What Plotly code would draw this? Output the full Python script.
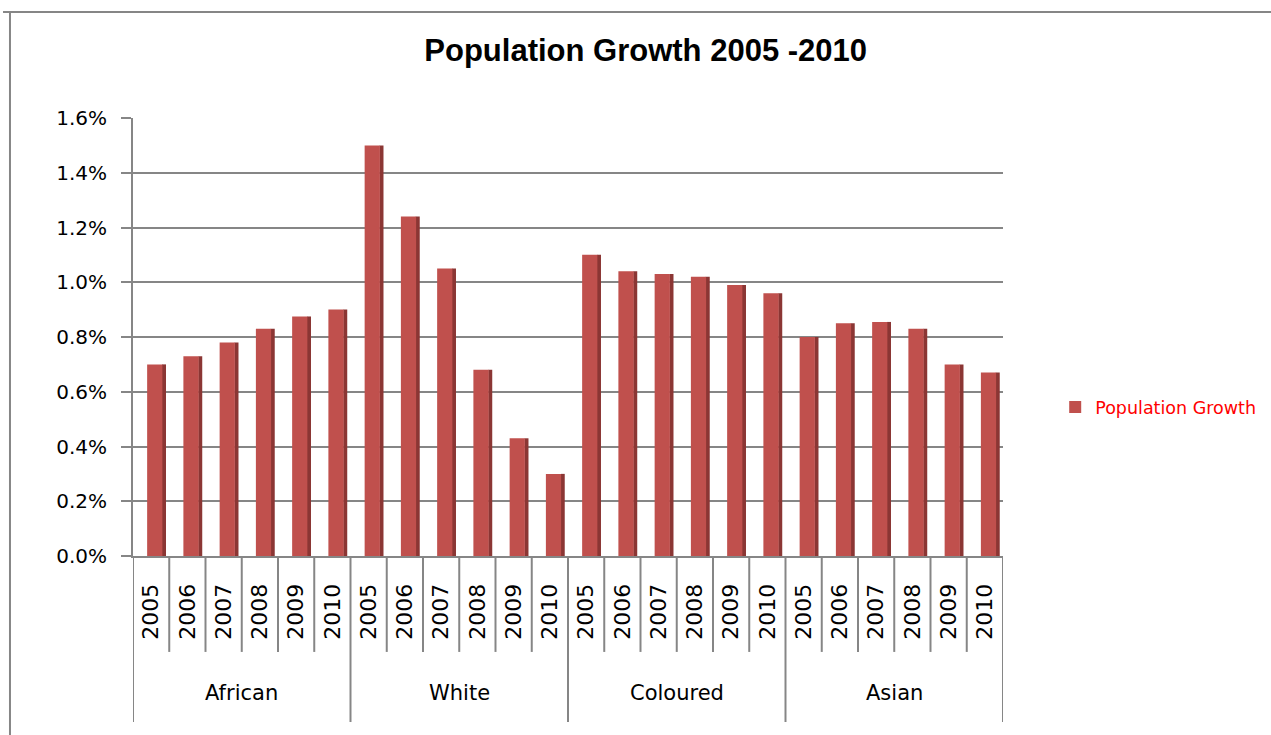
import plotly.graph_objects as go

groups = ["African", "White", "Coloured", "Asian"]
years = ["2005", "2006", "2007", "2008", "2009", "2010"]
african = [0.70, 0.73, 0.78, 0.83, 0.875, 0.90]
white = [1.50, 1.24, 1.05, 0.68, 0.43, 0.30]
coloured = [1.10, 1.04, 1.03, 1.02, 0.99, 0.96]
asian = [0.80, 0.85, 0.855, 0.83, 0.70, 0.67]
yticks = [0, 0.2, 0.4, 0.6, 0.8, 1.0, 1.2, 1.4, 1.6]

series = [african, white, coloured, asian]
values = [v / 100 for s in series for v in s]
xs = list(range(len(values)))
ticktext = years * len(groups)

GRAY = "#868686"
fig = go.Figure()
# side (3D depth) face
fig.add_trace(go.Bar(x=xs, y=values, offset=0.30, width=0.11,
                     marker=dict(color="#8B3634", line=dict(width=0)),
                     showlegend=False, hoverinfo="skip"))
# front face
fig.add_trace(go.Bar(x=xs, y=values, offset=-0.11, width=0.42,
                     name="Population Growth",
                     marker=dict(color="#C0504D", line=dict(width=0))))

shapes = []
n = len(years)
for i in range(len(values) + 1):
    is_group = (i % n == 0)
    shapes.append(dict(type="line", xref="x", yref="paper",
                       x0=i - 0.5, x1=i - 0.5, y0=0,
                       y1=-0.379 if is_group else -0.219,
                       line=dict(color=GRAY, width=2)))
# outer chart frame
shapes.append(dict(type="line", xref="paper", yref="paper", x0=-0.1494, x1=1.31,
                   y0=1.242, y1=1.242, line=dict(color=GRAY, width=2)))
shapes.append(dict(type="line", xref="paper", yref="paper", x0=-0.1414, x1=-0.1414,
                   y0=1.242, y1=-0.42, line=dict(color=GRAY, width=2)))

annotations = []
for gi, g in enumerate(groups):
    annotations.append(dict(x=gi * n + (n - 1) / 2, y=-0.313, xref="x", yref="paper",
                            text=g, showarrow=False, yanchor="middle",
                            font=dict(family="DejaVu Sans", size=21, color="#000")))

fig.update_layout(
    width=1271, height=735,
    margin=dict(l=133, r=268, t=118, b=179, autoexpand=False),
    paper_bgcolor="white", plot_bgcolor="white",
    barmode="overlay",
    title=dict(text="<b>Population Growth 2005 -2010</b>", x=0.508, xanchor="center",
               y=0.932, yanchor="middle",
               font=dict(family="Liberation Sans", size=31, color="#000")),
    xaxis=dict(range=[-0.5, len(values) - 0.5], tickmode="array", tickvals=xs,
               ticktext=ticktext, tickangle=-90, showgrid=False, zeroline=False,
               showline=True, linecolor=GRAY, linewidth=2, ticks="",
               ticklabelstandoff=17,
               tickfont=dict(family="DejaVu Sans", size=22, color="#000")),
    yaxis=dict(range=[0, 0.016], tickmode="array", tickvals=[t / 100 for t in yticks],
               tickformat=".1%", showgrid=True, gridcolor=GRAY, gridwidth=2,
               zeroline=False, showline=True, linecolor=GRAY, linewidth=2,
               ticks="outside", ticklen=10, tickcolor=GRAY, tickwidth=2,
               ticklabelstandoff=10,
               tickfont=dict(family="DejaVu Sans", size=20, color="#000")),
    legend=dict(x=1.06, y=0.34, xanchor="left", yanchor="middle",
                font=dict(family="DejaVu Sans", size=17.5, color="#FF0000"),
                bgcolor="rgba(0,0,0,0)"),
    shapes=shapes, annotations=annotations,
)

fig.write_html("out.html")
